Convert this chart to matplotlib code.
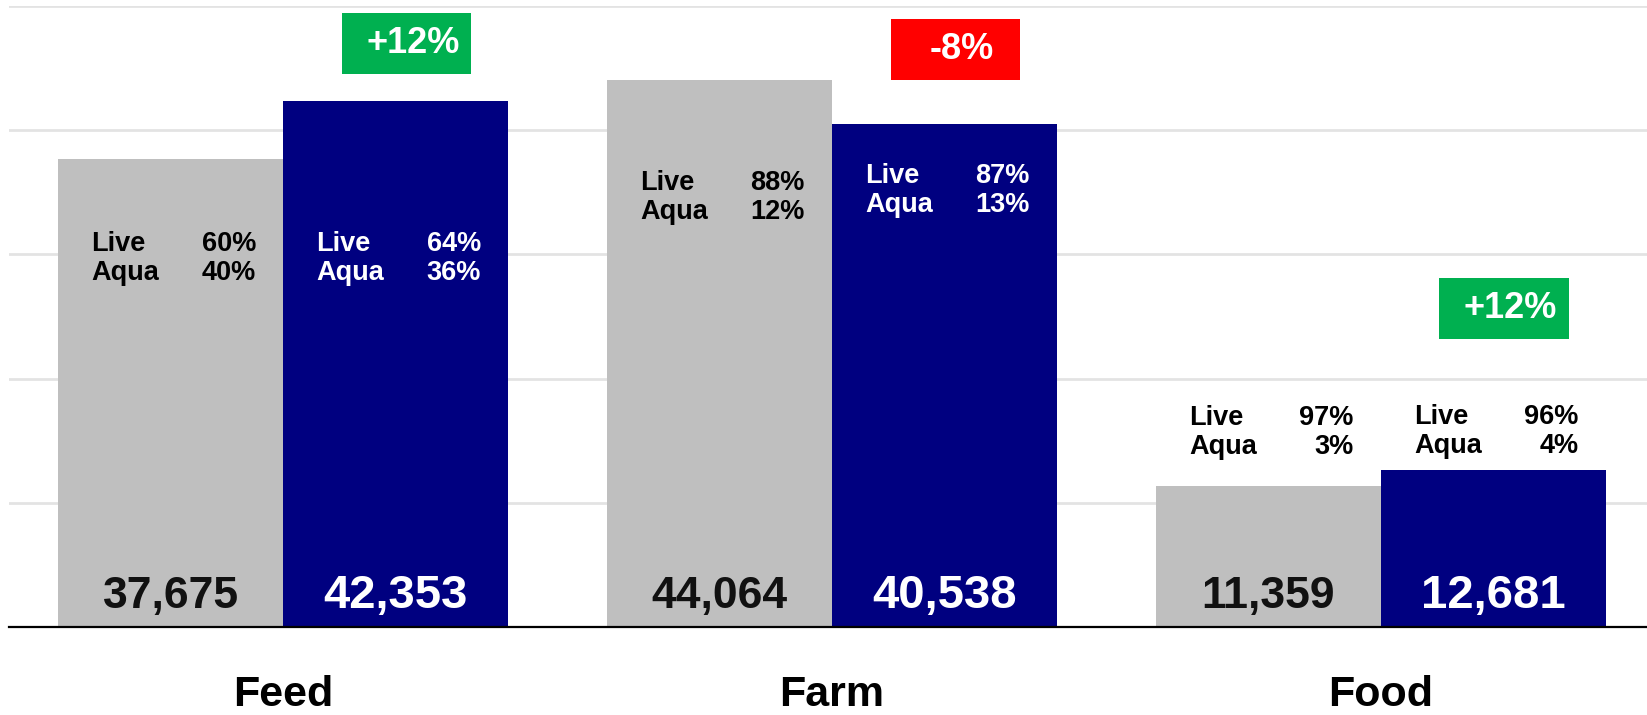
import numpy as np
import matplotlib
matplotlib.use("Agg")
import matplotlib.pyplot as plt
from matplotlib.patches import Rectangle

plt.rcParams["font.family"] = ["Liberation Sans", "DejaVu Sans"]

# data
categories = ["Feed", "Farm", "Food"]
prev_values = [37675, 44064, 11359]
curr_values = [42353, 40538, 12681]
change_labels = ["+12%", "-8%", "+12%"]
prev_live = [60, 88, 97]
prev_aqua = [40, 12, 3]
curr_live = [64, 87, 96]
curr_aqua = [36, 13, 4]

# layout (positions/styles, not data)
GRAY, NAVY, GREEN, RED = "#bfbfbf", "#000080", "#00b050", "#ff0000"
bw = 0.41
prev_mix_y = [30300, 35200, 16250]     # baseline of "Live" line
curr_mix_y = [30300, 35750, 16350]
prev_mix_col = ["black", "black", "black"]
curr_mix_col = ["white", "white", "black"]
badge_y = [46950, 46500, 25650]
badge_col = [GREEN, RED, GREEN]

fig = plt.figure(figsize=(16.47, 7.15), dpi=100)
ax = fig.add_axes([9 / 1647, 88 / 715, 1638 / 1647, 621 / 715])

x = np.arange(len(categories))
ax.bar(x - bw / 2, prev_values, bw, color=GRAY, zorder=2)
ax.bar(x + bw / 2, curr_values, bw, color=NAVY, zorder=3)

ax.set_xlim(-0.4995, 2.4855)
ax.set_ylim(0, 50000)
ax.set_yticks(np.arange(10000, 50001, 10000))
ax.yaxis.grid(True, color="#e3e3e3", linewidth=2, zorder=0)
ax.set_axisbelow(True)
for s in ("top", "left", "right"):
    ax.spines[s].set_visible(False)
ax.spines["bottom"].set_color("black")
ax.spines["bottom"].set_linewidth(1.6)
ax.spines["bottom"].set_zorder(5)
ax.tick_params(left=False, bottom=False, labelleft=False, labelbottom=False)

line_gap = 2330
for i in range(len(categories)):
    # value labels inside the bars
    ax.text(x[i] - bw / 2, 1500, f"{prev_values[i]:,}", ha="center", va="baseline",
            fontsize=32, fontweight="bold", color="#111111", zorder=6)
    ax.text(x[i] + bw / 2, 1500, f"{curr_values[i]:,}", ha="center", va="baseline",
            fontsize=34, fontweight="bold", color="white", zorder=6)

    # Live / Aqua mix
    for cx, y0, col, lv, aq in ((x[i] - bw / 2, prev_mix_y[i], prev_mix_col[i], prev_live[i], prev_aqua[i]),
                                (x[i] + bw / 2, curr_mix_y[i], curr_mix_col[i], curr_live[i], curr_aqua[i])):
        for y, name, pct in ((y0, "Live", lv), (y0 - line_gap, "Aqua", aq)):
            ax.text(cx - 0.352 * bw, y, name, ha="left", va="baseline",
                    fontsize=19.5, fontweight="bold", color=col, zorder=6)
            ax.text(cx + 0.38 * bw, y, f"{pct}%", ha="right", va="baseline",
                    fontsize=19.5, fontweight="bold", color=col, zorder=6)

    # change badge
    bx = x[i] + bw / 2 + 0.02
    ax.add_patch(Rectangle((bx - 0.118, badge_y[i] - 2450), 0.236, 4900,
                           facecolor=badge_col[i], edgecolor="none", zorder=4, clip_on=False))
    ax.text(bx + 0.012, badge_y[i], change_labels[i], ha="center", va="center",
            fontsize=26, fontweight="bold", color="white", zorder=6)

    # category label
    ax.text(x[i], -5500, categories[i], ha="center", va="center",
            fontsize=31, fontweight="bold", color="black")

fig.savefig("out.png", dpi=100)
